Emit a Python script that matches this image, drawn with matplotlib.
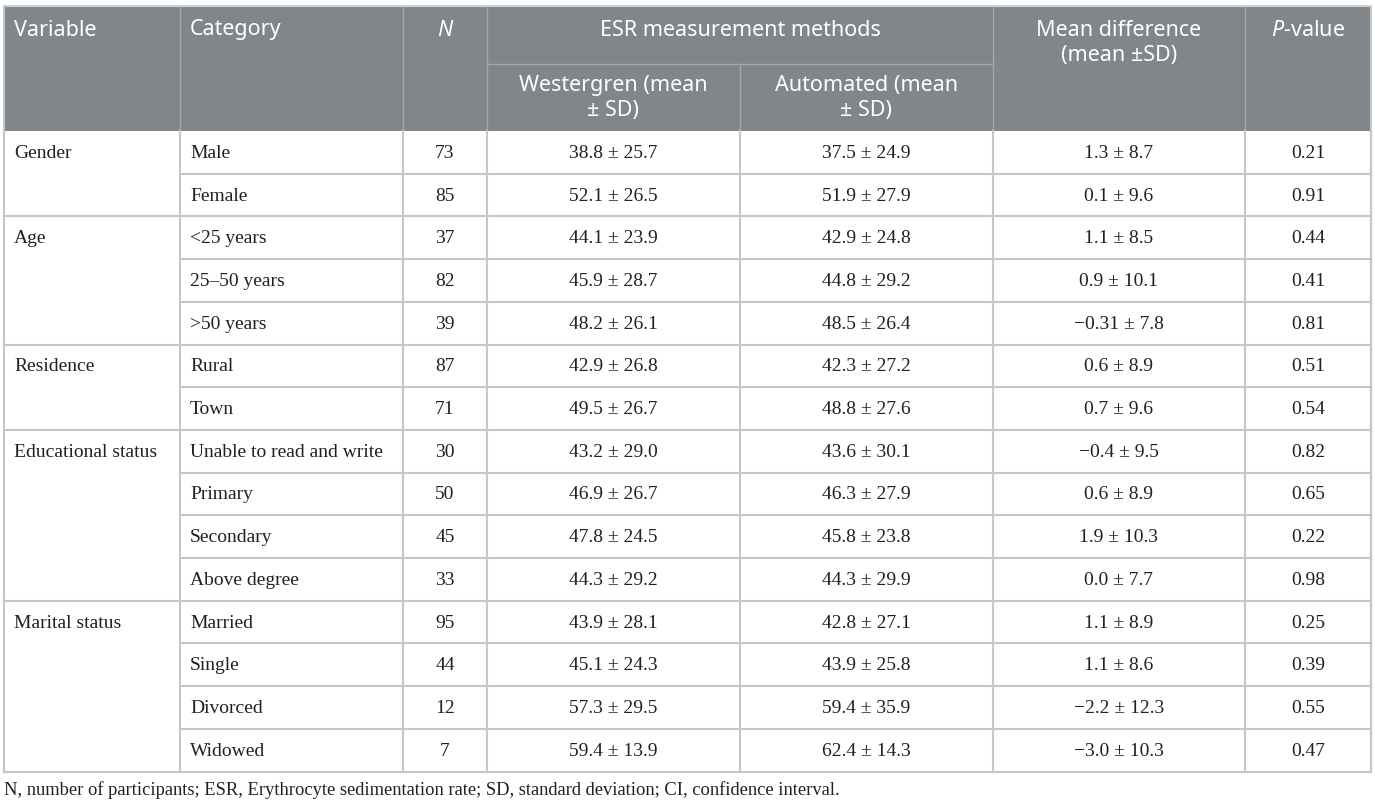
import matplotlib
matplotlib.use("Agg")
import matplotlib.pyplot as plt

plt.rcParams["mathtext.fontset"] = "custom"
plt.rcParams["mathtext.it"] = "Noto Sans:italic"
plt.rcParams["mathtext.rm"] = "Noto Sans"

# table contents
groups = ["Gender", "Age", "Residence", "Educational status", "Marital status"]
group_sizes = [2, 3, 2, 4, 4]
categories = ["Male", "Female", "<25 years", "25\u201350 years", ">50 years",
              "Rural", "Town", "Unable to read and write", "Primary", "Secondary",
              "Above degree", "Married", "Single", "Divorced", "Widowed"]
n_part = [73, 85, 37, 82, 39, 87, 71, 30, 50, 45, 33, 95, 44, 12, 7]
west_mean = [38.8, 52.1, 44.1, 45.9, 48.2, 42.9, 49.5, 43.2, 46.9, 47.8, 44.3, 43.9, 45.1, 57.3, 59.4]
west_sd = [25.7, 26.5, 23.9, 28.7, 26.1, 26.8, 26.7, 29.0, 26.7, 24.5, 29.2, 28.1, 24.3, 29.5, 13.9]
auto_mean = [37.5, 51.9, 42.9, 44.8, 48.5, 42.3, 48.8, 43.6, 46.3, 45.8, 44.3, 42.8, 43.9, 59.4, 62.4]
auto_sd = [24.9, 27.9, 24.8, 29.2, 26.4, 27.2, 27.6, 30.1, 27.9, 23.8, 29.9, 27.1, 25.8, 35.9, 14.3]
diff_mean = ["1.3", "0.1", "1.1", "0.9", "\u22120.31", "0.6", "0.7", "\u22120.4", "0.6", "1.9",
             "0.0", "1.1", "1.1", "\u22122.2", "\u22123.0"]
diff_sd = ["8.7", "9.6", "8.5", "10.1", "7.8", "8.9", "9.6", "9.5", "8.9", "10.3",
           "7.7", "8.9", "8.6", "12.3", "10.3"]
p_values = ["0.21", "0.91", "0.44", "0.41", "0.81", "0.51", "0.54", "0.82", "0.65", "0.22",
            "0.98", "0.25", "0.39", "0.55", "0.47"]
footnote = ("N, number of participants; ESR, Erythrocyte sedimentation rate; "
            "SD, standard deviation; CI, confidence interval.")

# layout (pixels)
W, H = 1375, 804
col_edges = [4, 180, 403, 487, 740, 993, 1245, 1371]
top, head_mid, head_bot = 8, 65, 132
row_h = 42.7
header_bg = "#80868a"
grid_c = "#c4c6c8"

fig = plt.figure(figsize=(W / 100, H / 100), dpi=100)
ax = fig.add_axes([0, 0, 1, 1])
ax.set_xlim(0, W)
ax.set_ylim(H, 0)
ax.axis("off")

left, right = col_edges[0], col_edges[-1]
n_rows = len(categories)
bottom = head_bot + n_rows * row_h

# header block
ax.fill_between([left, right], top, head_bot, color=header_bg, lw=0)
ax.plot([left, right], [top - 1, top - 1], color="#d0d2d4", lw=1.5)
hc = "#a3a7aa"
for x in col_edges[1:-1]:
    if x == 740:
        ax.plot([x, x], [head_mid, head_bot], color=hc, lw=1)
    else:
        ax.plot([x, x], [top, head_bot], color=hc, lw=1)
ax.plot([487, 993], [head_mid, head_mid], color=hc, lw=1)

hfont = dict(family="Noto Sans", color="white", fontsize=15.5)
ax.text(14, 30, "Variable", ha="left", va="center", **hfont)
ax.text(190, 30, "Category", ha="left", va="center", **hfont)
ax.text((403 + 487) / 2, 30, "N", ha="center", va="center", style="italic", **hfont)
ax.text((487 + 993) / 2, 30, "ESR measurement methods", ha="center", va="center", **hfont)
ax.text((487 + 740) / 2, 98, "Westergren (mean\n\u00b1 SD)", ha="center", va="center",
        linespacing=1.2, **hfont)
ax.text((740 + 993) / 2, 98, "Automated (mean\n\u00b1 SD)", ha="center", va="center",
        linespacing=1.2, **hfont)
ax.text((993 + 1245) / 2, 43, "Mean difference\n(mean \u00b1SD)", ha="center", va="center",
        linespacing=1.2, **hfont)
ax.text((1245 + 1371) / 2, 30, "$P$-value", ha="center", va="center", **hfont)

# body lines
for x in col_edges:
    ax.plot([x, x], [head_bot, bottom], color=grid_c, lw=1.5)
ax.plot([left, left], [top, bottom], color=grid_c, lw=1.5)
ax.plot([right, right], [top, bottom], color=grid_c, lw=1.5)

bfont = dict(family="Liberation Serif", color="#231f20", fontsize=14)
group_start = [sum(group_sizes[:i]) for i in range(len(groups))]
for i in range(1, n_rows + 1):
    y = head_bot + i * row_h
    x0 = left if (i in group_start or i == n_rows) else col_edges[1]
    ax.plot([x0, right], [y, y], color=grid_c, lw=1.5)

for g, start in zip(groups, group_start):
    yc = head_bot + (start + 0.5) * row_h
    ax.text(14, yc, g, ha="left", va="center", **bfont)

for i in range(n_rows):
    yc = head_bot + (i + 0.5) * row_h
    cells = [str(n_part[i]),
             f"{west_mean[i]:.1f} \u00b1 {west_sd[i]:.1f}",
             f"{auto_mean[i]:.1f} \u00b1 {auto_sd[i]:.1f}",
             f"{diff_mean[i]} \u00b1 {diff_sd[i]}",
             p_values[i]]
    ax.text(190, yc, categories[i], ha="left", va="center", **bfont)
    for j, txt in enumerate(cells):
        xc = (col_edges[j + 2] + col_edges[j + 3]) / 2
        ax.text(xc, yc, txt, ha="center", va="center", **bfont)

ax.text(4, 790, footnote, ha="left", va="center", **dict(bfont, fontsize=13.3))

fig.savefig("out.png", dpi=100)
